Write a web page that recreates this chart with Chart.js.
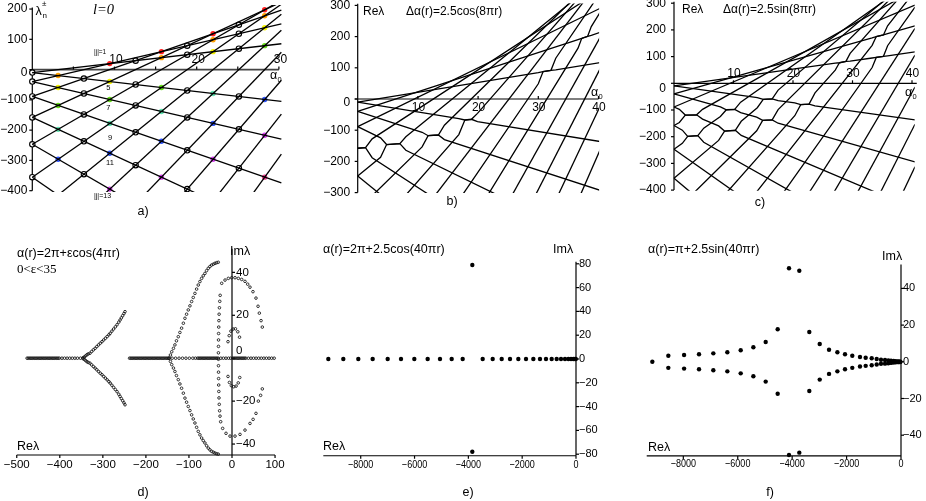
<!DOCTYPE html>
<html>
<head>
<meta charset="utf-8">
<title>Eigenvalue panels</title>
<script src="https://cdn.jsdelivr.net/npm/chart.js@4.4.1/dist/chart.umd.min.js"></script>
<style>
  html, body { margin: 0; padding: 0; background: #fff; }
  #wrap { position: relative; width: 926px; height: 501px; overflow: hidden; }
  #wrap canvas { position: absolute; left: 0; top: 0; }
</style>
</head>
<body>
<div id="wrap">
  <canvas id="pa" width="926" height="501"></canvas>
  <canvas id="pb" width="926" height="501"></canvas>
  <canvas id="pc" width="926" height="501"></canvas>
  <canvas id="pd" width="926" height="501"></canvas>
  <canvas id="pe" width="926" height="501"></canvas>
  <canvas id="pf" width="926" height="501"></canvas>
</div>
<script>
const W = 926, H = 501;
const SANS = '"Liberation Sans", Arial, Helvetica, sans-serif';
const SERIF = '"Liberation Serif", "Times New Roman", serif';

// ---------- data ----------
// Re λ at α0 = 0, shared start of every branch (a, b, c)
const branchStartY = [-9.9, -39.5, -88.8, -157.9, -246.7, -355.3, -483.6, -631.7, -799.4, -987.0, -1194.2, -1421.2, -1668.0, -1934.4, -2220.7];

// a) unperturbed lattice
const aEndX = 30.3;
const aDescEndY = [-105.1, -229.9, -374.4, -538.7, -722.7, -926.5];
const aAscEndY = [85.3, 150.9, 196.7, 222.9, 229.2, 215.9, 182.7, 129.9, 57.3, -35.1, -147.1, -278.9];
const aOpenX = [0, 0, 0, 0, 0, 0, 6.28, 6.28, 6.28, 6.28, 6.28, 12.57, 12.57, 12.57, 12.57, 12.57,
  18.85, 18.85, 18.85, 18.85, 18.85, 18.85, 25.13, 25.13, 25.13, 25.13, 25.13, 25.13];
const aOpenY = [-9.9, -39.5, -88.8, -157.9, -246.7, -355.3, -29.6, -79.0, -148.0, -236.9, -345.4, 29.6, -49.3, -118.4, -207.3, -315.8,
  79.0, 49.3, -69.1, -157.9, -266.5, -394.8, 148.0, 118.4, 69.1, -88.8, -197.4, -325.7];
const aDotX = [3.14, 3.14, 3.14, 3.14, 3.14, 9.42, 9.42, 9.42, 9.42, 9.42, 9.42, 15.71, 15.71, 15.71, 15.71, 15.71, 15.71,
  21.99, 21.99, 21.99, 21.99, 21.99, 21.99, 28.27, 28.27, 28.27, 28.27, 28.27, 28.27, 28.27];
const aDotY = [-19.7, -59.2, -118.4, -197.4, -296.1, 19.7, -39.5, -98.7, -177.7, -276.3, -394.8, 59.2, 39.5, -59.2, -138.2, -236.9, -355.3,
  118.4, 98.7, 59.2, -79.0, -177.7, -296.1, 197.4, 177.7, 138.2, 79.0, -98.7, -217.1, -355.3];
const aDotJ = [3, 5, 7, 9, 11, 1, 5, 7, 9, 11, 13, 1, 3, 7, 9, 11, 13, 1, 3, 5, 9, 11, 13, 1, 3, 5, 7, 11, 13, 15];

// b) and c) perturbed lattices
const bcEndX = 40.5;
const bcDescEndY = [-137.1, -294.0, -470.5, -666.8, -882.9, -1118.7];
const bcAscEndY = [117.4, 215.0, 292.9, 351.0, 389.4, 408.1, 407.0, 386.2, 345.7, 285.4, 205.4, 105.6, -13.9, -153.2, -312.4];
const bBends = {
  D4: [[1.3, -156], [2.4, -188.1]],
  A4: [[1.3, -156], [2.4, -127.7]],
  D3: [[3.8, -124.6], [4.8, -146], [7.0, -143], [8.0, -164.2]],
  A5: [[3.8, -187.0], [4.8, -146], [7.0, -143], [8.0, -121.0]],
  D2: [[10.7, -106.7], [11.7, -117.6], [13.4, -115.4], [14.4, -130.0]],
  A6: [[10.7, -153.6], [11.7, -117.6], [13.4, -115.4], [14.4, -83.9]],
  D1: [[16.8, -62.7], [17.8, -67.3], [18.9, -65], [19.9, -72.4]],
  A7: [[16.8, -114.1], [17.8, -67.3], [18.9, -65], [19.9, -46.0]],
  A1: [[30.0, 84.4], [30.8, 88], [32.1, 92], [32.9, 93.5]],
  A9: [[30.0, 48.8], [30.8, 88], [32.1, 92], [32.9, 130.8]],
  A2: [[36.6, 190.5], [37.2, 194], [38.2, 201], [38.8, 204.3]],
  A10: [[36.6, 162.9], [37.2, 194], [38.2, 201], [38.8, 232.0]]
};
const cBends = {
  D1: [[14.0, -53.9], [15.0, -60], [16.5, -58], [17.5, -64.9], [20.3, -73.7], [21.3, -80], [22.7, -78], [23.7, -84.3]],
  D2: [[7.8, -88.5], [8.8, -99], [10.2, -98], [11.2, -109.9], [13.9, -126.8], [14.9, -139], [16.5, -137], [17.5, -149.5]],
  D3: [[0.9, -97.3], [1.9, -119], [3.8, -118], [4.8, -134.0], [7.5, -159.5], [8.5, -179], [10.3, -176], [11.3, -195.3]],
  D4: [[1.4, -175.5], [2.3, -199], [4.0, -196], [5.0, -220.7]],
  A1: [[27.1, 75.3], [27.8, 77], [28.9, 82], [29.6, 83.1], [33.3, 94.7], [34.0, 97], [35.2, 101], [35.9, 102.9]],
  A2: [[33.3, 169.7], [34.0, 175], [35.2, 181], [35.9, 186.1]],
  A4: [[0.9, -146.6], [1.9, -119], [3.8, -118], [4.8, -97.6]],
  A5: [[1.4, -224.7], [2.3, -199], [4.0, -196], [5.0, -168.2], [7.8, -124.2], [8.8, -99], [10.2, -98], [11.2, -70.8]],
  A6: [[7.5, -213.9], [8.5, -179], [10.3, -176], [11.3, -142.3], [14.0, -91.4], [15.0, -60], [16.5, -58], [17.5, -25.4]],
  A7: [[13.9, -177.8], [14.9, -139], [16.5, -137], [17.5, -98.6]],
  A8: [[20.3, -121.5], [21.3, -80], [22.7, -78], [23.7, -36.1], [27.1, 49.4], [27.8, 77], [28.9, 82], [29.6, 112.2]],
  A9: [[33.3, 142.1], [34.0, 175], [35.2, 181], [35.9, 215.6]],
  A10: [[33.3, 59.1], [34.0, 97], [35.2, 101], [35.9, 140.8]]
};

// d) eigenvalue loci, open circles
const dRealAxisX = [-476, -473, -470, -467, -464, -461, -458, -455, -452, -449, -446, -443, -440, -437, -434, -431, -428, -425, -422, -419, -416, -413, -410, -407, -404, -401,
  -395, -389, -383, -377, -371, -365, -359, -352,
  -238, -235, -232, -229, -226, -223, -220, -217, -214, -211, -208, -205, -202, -199, -196, -193, -190, -187, -184, -181, -178, -175, -172, -169, -166, -163, -160, -157, -154, -151, -148,
  -139, -131, -123, -115, -107, -99, -91, -85,
  -80, -77, -74, -71, -68, -65, -62, -59, -56, -53, -50, -47, -44, -41, -38, -35, -32,
  -26, -20, -14, -8, -3, 2, 5, 8, 11, 14, 17, 20, 23, 26, 29, 32,
  38, 44, 50, 56, 62, 68, 74, 80, 86, 92, 98];
const dCuspAX = [-346, -343, -340, -337, -334, -330, -326, -322, -318, -314, -310, -306, -302, -298, -294, -290, -286, -283, -279, -275, -271, -267, -263, -260, -257, -254, -251, -248.5];
const dCuspAUpY = [0.2, 0.6, 1.1, 1.6, 2.0, 2.3, 3.1, 3.9, 4.6, 5.4, 6.2, 7.0, 7.7, 8.5, 9.3, 10.1, 10.9, 11.6, 12.6, 13.6, 14.6, 15.6, 16.8, 17.8, 18.8, 19.8, 20.8, 21.7];
const dCuspALoY = [-0.2, -0.6, -1.1, -1.6, -2.0, -2.3, -3.1, -3.9, -4.6, -5.4, -6.2, -7.0, -7.7, -8.5, -9.3, -10.1, -10.9, -11.6, -12.6, -13.6, -14.6, -15.6, -16.8, -17.8, -18.8, -19.8, -20.8, -21.7];
const dCuspBX = [-146, -143, -140, -136, -132.6, -129, -124.8, -121, -117.1, -113, -109.3, -105.5, -101.6, -97.7, -93.8, -90, -86.1, -82.2, -78.4, -74.5, -70.6, -66.8, -62.9, -59, -55.1, -51.3, -47.4, -43.5, -39.6, -35.7, -31.9];
const dCuspBUpY = [0, 1.5, 3.0, 4.6, 6.2, 8.1, 10.0, 12.0, 14.0, 16.3, 18.6, 20.5, 22.5, 24.4, 26.4, 28.3, 30.2, 32.2, 34.1, 35.7, 37.2, 38.4, 39.5, 40.8, 41.9, 42.7, 43.4, 43.8, 44.2, 44.5, 44.7];
const dCuspBLoY = [0, -1.5, -3.0, -4.6, -6.2, -8.1, -10.0, -12.0, -14.0, -16.3, -18.6, -20.5, -22.5, -24.4, -26.4, -28.3, -30.2, -32.2, -34.1, -35.7, -37.2, -38.4, -39.5, -40.8, -41.9, -42.7, -43.4, -43.8, -44.2, -44.5, -44.7];
const dLoopX = [-23.9, -16.2, -8.5, -0.7, 7.0, 14.7, 22.5, 30.2, 36.4, 41.8, 48.7, 55.7, 60.5, 63.5, 67.5, 70.4,
  70.4, 66.5, 61.2, 55.7, 49.0, 41.8, 30.2, 18.6, 7.0, -4.6, -13.9, -21.7, -26.3,
  -27.8, -28.8, -29.6, -30.2, -30.6, -30.9, -31.1, -31.3, -31.4, -31.5, -31.5, -31.4, -31.3, -31.1, -30.8, -30.4, -29.9, -29.2, -28.4, -27.5];
const dLoopY = [34.9, 36.4, 37.2, 37.5, 37.5, 37.2, 36.7, 35.8, 34.5, 33.1, 31.0, 28.0, 24.2, 21.0, 17.5, 14.5,
  -14.3, -17.3, -20.0, -25.7, -28.5, -30.4, -33.5, -35.5, -36.3, -36.3, -35.0, -32.7, -29.6,
  -27.0, -24.5, -21.5, -18.5, -15.5, -12.5, -9.5, -6.5, -3.5, -0.5, 2.5, 5.5, 8.5, 11.5, 14.5, 17.5, 20.5, 23.5, 26.5, 29.3];
const dInnerX = [-9.3, -6.5, -2.5, 2.5, 8.0, 13.5, 17.5, -9.3, -6.0, -1.5, 4.0, 9.5, 14.5, 18.0];
const dInnerY = [7.7, 10.5, 12.6, 13.6, 13.7, 12.3, 9.8, -8.5, -11.3, -12.8, -13.3, -13.0, -11.5, -9.0];

// e) filled dots
const eRealAxisX = [-9204, -8647, -8090, -7556, -6998, -6503, -6008, -5512, -5054, -4620, -4211, -3468, -3096, -2761, -2452, -2143,
  -1858, -1585, -1338, -1115, -904, -718, -557, -409, -285, -186, -99, -37, -8];
const ePairX = [-3853, -3853];
const ePairY = [79, -78];

// f) filled dots
const fBranchX = [-8551, -7972, -7423, -6897, -6382, -5891, -5426, -4973, -4532, -3370, -2987, -2645, -2338, -2058, -1790, -1507,
  -1298, -1077, -893, -735, -588, -467, -368, -270, -196, -123, -74, -25];
const fUpperY = [3.3, 3.7, 4.1, 4.6, 5.2, 6.3, 7.9, 10.8, 17.7, 16.2, 9.7, 6.6, 5.2, 4.1, 3.3, 2.6, 2.2, 1.9, 1.5, 1.1, 1.0, 0.8, 0.6, 0.4, 0.3, 0.2, 0.2, 0.1];
const fLowerY = [-3.3, -3.7, -4.1, -4.6, -5.2, -6.3, -7.9, -10.8, -17.4, -15.9, -9.7, -6.6, -5.2, -4.1, -3.3, -2.6, -2.2, -1.9, -1.5, -1.1, -1.0, -0.8, -0.6, -0.4, -0.3, -0.2, -0.2, -0.1];
const fExtraX = [-9139, -4116, -3737, -4116, -3737];
const fExtraY = [0, 51.0, 49.6, -50.8, -49.5];

// ---------- styles & helpers ----------
const jColors = { 1: '#ff1f1f', 3: '#ffa000', 5: '#f4f400', 7: '#66dd1a', 9: '#5fe3b0', 11: '#2f55ff', 13: '#d63cf0', 15: '#ee3a8c' };

function frame(x0, sx, y0, sy, xmin, xmax, ymin, ymax) {
  const left = x0 + xmin * sx, right = x0 + xmax * sx;
  const top = y0 - ymax * sy, bottom = y0 - ymin * sy;
  return { xmin, xmax, ymin, ymax, padding: { left, top, right: W - right, bottom: H - bottom } };
}

const pts = (xs, ys) => xs.map((x, i) => ({ x, y: Array.isArray(ys) ? ys[i] : ys }));
const fmt = v => (v < 0 ? '\u2212' + Math.abs(v) : String(v));

function lineSet(data) {
  return { data, showLine: true, pointRadius: 0, borderColor: '#000', borderWidth: 1.3, tension: 0 };
}

function lattice(descEnd, ascEnd, endX, bends) {
  const sets = [];
  const add = (key, y0, y1) => {
    const p = [[0, y0]].concat(bends[key] || [], [[endX, y1]]).sort((a, b) => a[0] - b[0]);
    sets.push(lineSet(p.map(q => ({ x: q[0], y: q[1] }))));
  };
  descEnd.forEach((e, i) => add('D' + (i + 1), branchStartY[i], e));
  ascEnd.forEach((e, i) => add('A' + (i + 1), branchStartY[i], e));
  return sets;
}

function seg(ctx, x1, y1, x2, y2) {
  ctx.beginPath(); ctx.moveTo(x1, y1); ctx.lineTo(x2, y2); ctx.stroke();
}

function drawText(ctx, s, x, y, font, align, sq) {
  ctx.font = font; ctx.textAlign = align || 'left'; ctx.textBaseline = 'middle';
  if (sq && sq !== 1) {
    ctx.save(); ctx.translate(x, y); ctx.scale(sq, 1); ctx.fillText(s, 0, 0); ctx.restore();
  } else ctx.fillText(s, x, y);
}

function axesFor(c) {
  return {
    id: 'axes',
    beforeDatasetsDraw(chart) {
      const ctx = chart.ctx;
      const X = v => chart.scales.x.getPixelForValue(v), Y = v => chart.scales.y.getPixelForValue(v);
      const xa = c.x, ya = c.y;
      ctx.save();
      ctx.strokeStyle = xa.color || '#000'; ctx.lineWidth = xa.width || 1.2;
      seg(ctx, X(xa.from), Y(xa.at), X(xa.to), Y(xa.at));
      ctx.strokeStyle = '#000'; ctx.lineWidth = 1.2;
      xa.ticks.forEach(v => seg(ctx, X(v), Y(xa.at), X(v), Y(xa.at) + xa.tick));
      seg(ctx, X(ya.at), Y(ya.from), X(ya.at), Y(ya.to));
      ya.ticks.forEach(v => seg(ctx, X(ya.at), Y(v), X(ya.at) + ya.tick, Y(v)));
      ctx.fillStyle = '#000';
      xa.labels.forEach(v => drawText(ctx, fmt(v), X(v) + (xa.ldx || 0), Y(xa.at) + xa.ldy, xa.font, 'center', xa.squeeze));
      ya.labels.forEach(v => drawText(ctx, fmt(v), X(ya.at) + ya.ldx, Y(v) + (v === 0 ? (ya.zeroDy || 0) : 0), ya.font, ya.align));
      ctx.restore();
    },
    afterDraw(chart) {
      const ctx = chart.ctx;
      ctx.save(); ctx.fillStyle = '#000';
      c.texts.forEach(t => drawText(ctx, t.s, t.x, t.y, t.f, t.a || 'left'));
      ctx.restore();
    }
  };
}

function makeChart(id, fr, datasets, axes) {
  return new Chart(document.getElementById(id), {
    type: 'scatter',
    data: { datasets },
    options: {
      responsive: false, animation: false, events: [],
      layout: { padding: fr.padding },
      scales: {
        x: { type: 'linear', display: false, min: fr.xmin, max: fr.xmax },
        y: { type: 'linear', display: false, min: fr.ymin, max: fr.ymax }
      },
      plugins: { legend: { display: false }, tooltip: { enabled: false } }
    },
    plugins: [axesFor(axes)]
  });
}

const openDot = { pointRadius: 1.3, pointBorderWidth: 0.85, pointBorderColor: '#111', pointBackgroundColor: 'rgba(0,0,0,0)' };
const fillDot = { pointRadius: 2.2, pointBorderWidth: 0, pointBackgroundColor: '#000' };
const f12 = '12px ' + SANS;

// ---------- a) ----------
makeChart('pa', frame(32.3, 8.22, 68, 0.3067, -1.5, 30.4, -404, 213),
  lattice(aDescEndY, aAscEndY, aEndX, {}).concat([
    { data: pts(aOpenX, aOpenY), pointRadius: 2.7, pointBorderWidth: 1.1, pointBorderColor: '#000', pointBackgroundColor: '#fff' },
    { data: pts(aDotX, aDotY), pointRadius: 2.7, pointBorderWidth: 0, pointBackgroundColor: aDotJ.map(j => jColors[j]) }
  ]), {
    x: { at: 0, from: 0, to: 30, ticks: [5, 10, 15, 20, 25, 30], tick: -3, labels: [10, 20, 30], ldx: 1.5, ldy: -9.7, font: f12, color: '#444', width: 1.7 },
    y: { at: 0, from: -400, to: 205, ticks: [-400, -300, -200, -100, 0, 100, 200], tick: -3, labels: [200, 100, 0, -100, -200, -300, -400], ldx: -5, align: 'right', zeroDy: 3, font: f12 },
    texts: [
      { s: 'λ', x: 35.5, y: 11.5, f: '12.5px ' + SANS },
      { s: '±', x: 42, y: 3.5, f: '8px ' + SANS },
      { s: 'n', x: 42.5, y: 15.5, f: '8px ' + SANS },
      { s: 'l=0', x: 93, y: 10, f: 'italic 14.5px ' + SERIF },
      { s: '|j|=1', x: 94, y: 52, f: '6.5px ' + SANS },
      { s: '5', x: 108.3, y: 88.3, f: '7.5px ' + SANS, a: 'center' },
      { s: '7', x: 108.3, y: 108.3, f: '7.5px ' + SANS, a: 'center' },
      { s: '9', x: 110, y: 138.3, f: '7.5px ' + SANS, a: 'center' },
      { s: '11', x: 110, y: 163.3, f: '7.5px ' + SANS, a: 'center' },
      { s: '|j|=13', x: 94, y: 196, f: '7px ' + SANS },
      { s: 'α', x: 270, y: 76, f: '12.5px ' + SANS },
      { s: '0', x: 277.5, y: 79.5, f: '7.5px ' + SANS },
      { s: 'a)', x: 143, y: 212, f: '12.5px ' + SANS, a: 'center' }
    ]
  });

// ---------- b) ----------
makeChart('pb', frame(357.7, 6.02, 99, 0.312, -1.5, 40.1, -301, 306),
  lattice(bcDescEndY.slice(0, 5), bcAscEndY.slice(0, 14), bcEndX, bBends), {
    x: { at: 0, from: -0.5, to: 40, ticks: [10, 20, 30, 40], tick: -3, labels: [10, 20, 30, 40], ldx: 0.5, ldy: 8.3, font: f12 },
    y: { at: 0, from: -300, to: 305, ticks: [-300, -200, -100, 0, 100, 200, 300], tick: -3, labels: [300, 200, 100, 0, -100, -200, -300], ldx: -7.5, align: 'right', zeroDy: 4, font: f12 },
    texts: [
      { s: 'Reλ', x: 363, y: 12, f: f12 },
      { s: 'Δα(r)=2.5cos(8πr)', x: 406, y: 12, f: f12 },
      { s: 'α', x: 591, y: 93, f: '12.5px ' + SANS },
      { s: '0', x: 598.5, y: 96.5, f: '7.5px ' + SANS },
      { s: 'b)', x: 452, y: 202, f: '12.5px ' + SANS, a: 'center' }
    ]
  });

// ---------- c) ----------
makeChart('pc', frame(674, 5.95, 83.3, 0.267, -1.5, 40.45, -402, 305),
  lattice(bcDescEndY, bcAscEndY, bcEndX, cBends), {
    x: { at: 0, from: 0, to: 40.8, ticks: [10, 20, 30, 40], tick: -3, labels: [10, 20, 30, 40], ldx: 0.5, ldy: -9.3, font: f12 },
    y: { at: 0, from: -400, to: 305, ticks: [-400, -300, -200, -100, 0, 100, 200, 300], tick: -3, labels: [300, 200, 100, 0, -100, -200, -300, -400], ldx: -8, align: 'right', zeroDy: 5, font: f12 },
    texts: [
      { s: 'Reλ', x: 682, y: 9.5, f: f12 },
      { s: 'Δα(r)=2.5sin(8πr)', x: 723, y: 9.5, f: f12 },
      { s: 'α', x: 905, y: 93, f: '12.5px ' + SANS },
      { s: '0', x: 912.5, y: 96.5, f: '7.5px ' + SANS },
      { s: 'c)', x: 760, y: 203, f: '12.5px ' + SANS, a: 'center' }
    ]
  });

// ---------- d) ----------
makeChart('pd', frame(232, 0.4305, 358.2, 2.146, -500, 105, -48, 52), [
  Object.assign({ data: pts(dRealAxisX, 0) }, openDot),
  Object.assign({ data: pts(dCuspAX, dCuspAUpY) }, openDot),
  Object.assign({ data: pts(dCuspAX, dCuspALoY) }, openDot),
  Object.assign({ data: pts(dCuspBX, dCuspBUpY) }, openDot),
  Object.assign({ data: pts(dCuspBX, dCuspBLoY) }, openDot),
  Object.assign({ data: pts(dLoopX, dLoopY) }, openDot),
  Object.assign({ data: pts(dInnerX, dInnerY) }, openDot)
], {
  x: { at: -45.1, from: -500, to: 100, ticks: [-500, -400, -300, -200, -100, 0, 100], tick: 3, labels: [-500, -400, -300, -200, -100, 0, 100], ldy: 10, font: '11.5px ' + SANS },
  y: { at: 0, from: -45.1, to: 51, ticks: [-40, -20, 0, 20, 40], tick: 3, labels: [40, 20, 0, -20, -40], ldx: 4, align: 'left', zeroDy: -7, font: '11.5px ' + SANS },
  texts: [
    { s: 'α(r)=2π+εcos(4πr)', x: 17, y: 254, f: '12.5px ' + SANS },
    { s: '0<ε<35', x: 17, y: 270, f: '13px ' + SERIF },
    { s: 'Imλ', x: 230, y: 252, f: '12.5px ' + SANS },
    { s: 'Reλ', x: 17, y: 447, f: '12.5px ' + SANS },
    { s: 'd)', x: 143, y: 493, f: '12.5px ' + SANS, a: 'center' }
  ]
});

// ---------- e) ----------
makeChart('pe', frame(576, 0.02691, 359, 1.19, -9600, 150, -85, 85), [
  Object.assign({ data: pts(eRealAxisX, 0) }, fillDot),
  Object.assign({ data: pts(ePairX, ePairY) }, fillDot)
], {
  x: { at: -81.3, from: -9390, to: 0, ticks: [-8000, -6000, -4000, -2000, 0], tick: 3, labels: [-8000, -6000, -4000, -2000, 0], ldy: 9.5, font: '11px ' + SANS, squeeze: 0.82 },
  y: { at: 0, from: -81.3, to: 81.8, ticks: [-80, -60, -40, -20, 0, 20, 40, 60, 80], tick: 3, labels: [80, 60, 40, 20, 0, -20, -40, -60, -80], ldx: 3, align: 'left', font: '11px ' + SANS },
  texts: [
    { s: 'α(r)=2π+2.5cos(40πr)', x: 323, y: 250, f: '12.5px ' + SANS },
    { s: 'Imλ', x: 553, y: 250, f: '12.5px ' + SANS },
    { s: 'Reλ', x: 323, y: 447, f: '12.5px ' + SANS },
    { s: 'e)', x: 468, y: 493, f: '12.5px ' + SANS, a: 'center' }
  ]
});

// ---------- f) ----------
makeChart('pf', frame(901, 0.02721, 361.8, 1.835, -9400, 150, -55, 55), [
  Object.assign({ data: pts(fBranchX, fUpperY) }, fillDot),
  Object.assign({ data: pts(fBranchX, fLowerY) }, fillDot),
  Object.assign({ data: pts(fExtraX, fExtraY) }, fillDot)
], {
  x: { at: -51.3, from: -9345, to: 0, ticks: [-8000, -6000, -4000, -2000, 0], tick: 3, labels: [-8000, -6000, -4000, -2000, 0], ldy: 8.5, font: '11px ' + SANS, squeeze: 0.82 },
  y: { at: 0, from: -51.3, to: 53, ticks: [-40, -20, 0, 20, 40], tick: 3, labels: [40, 20, 0, -20, -40], ldx: 2, align: 'left', font: '11px ' + SANS },
  texts: [
    { s: 'α(r)=π+2.5sin(40πr)', x: 648, y: 250, f: '12.5px ' + SANS },
    { s: 'Imλ', x: 882, y: 257, f: '12.5px ' + SANS },
    { s: 'Reλ', x: 648, y: 448, f: '12.5px ' + SANS },
    { s: 'f)', x: 770, y: 493, f: '12.5px ' + SANS, a: 'center' }
  ]
});
</script>
</body>
</html>
